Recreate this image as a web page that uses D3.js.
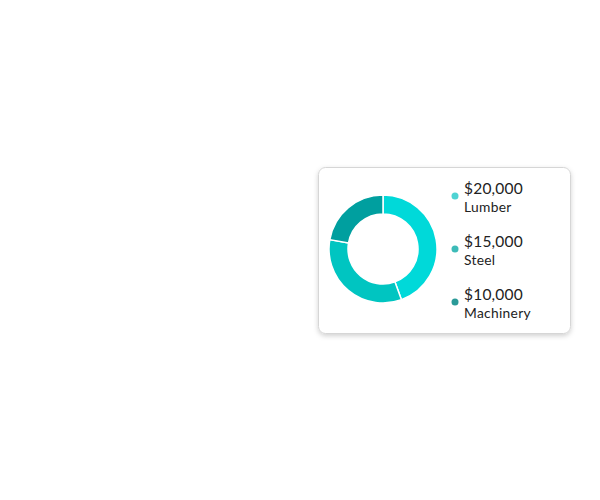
<!DOCTYPE html>
<html><head><meta charset="utf-8">
<script src="https://cdn.jsdelivr.net/npm/d3@7"></script>
<style>html,body{margin:0;padding:0;background:#fff;}</style>
</head><body>
<svg id="chart" width="600" height="500"></svg>
<script>
const categories = ["Lumber", "Steel", "Machinery"];
const values = [20000, 15000, 10000];
const sliceColors = ["#00d9d9", "#00c5c1", "#009f9f"];
const dotColors = ["#4fd3d3", "#3dbbb8", "#2a9a98"];

const svg = d3.select("#chart");
const defs = svg.append("defs");
const f = defs.append("filter").attr("id","sh").attr("x","-10%").attr("y","-10%").attr("width","120%").attr("height","130%");
f.append("feDropShadow").attr("dx",0).attr("dy",2).attr("stdDeviation",2.5).attr("flood-color","#000").attr("flood-opacity",0.18);

svg.append("rect").attr("x",318.5).attr("y",167.5).attr("width",252).attr("height",166)
  .attr("rx",7).attr("fill","#fff").attr("stroke","#d6d6d6").attr("stroke-width",1).attr("filter","url(#sh)");

const pie = d3.pie().sort(null).value(d=>d);
const arc = d3.arc().innerRadius(35).outerRadius(54);
const g = svg.append("g").attr("transform","translate(383,249)");
g.selectAll("path").data(pie(values)).join("path")
  .attr("d",arc).attr("fill",(d,i)=>sliceColors[i])
  .attr("stroke","#fff").attr("stroke-width",1.5);

const fmt = d3.format("$,");
const lg = svg.append("g");
const items = lg.selectAll("g").data(categories).join("g")
  .attr("transform",(d,i)=>`translate(455,${196 + i*53})`);
items.append("circle").attr("r",3.5).attr("fill",(d,i)=>dotColors[i]);
items.append("text").attr("x",9).attr("y",-2)
  .attr("font-family","Lato, 'Open Sans', sans-serif").attr("font-size",15.5)
  .attr("letter-spacing",0.2)
  .attr("fill","#222").text((d,i)=>fmt(values[i]));
items.append("text").attr("x",9).attr("y",16)
  .attr("font-family","Lato, 'Open Sans', sans-serif").attr("font-size",13.8)
  .attr("letter-spacing",0.3)
  .attr("fill","#222").text(d=>d);
</script>
</body></html>
